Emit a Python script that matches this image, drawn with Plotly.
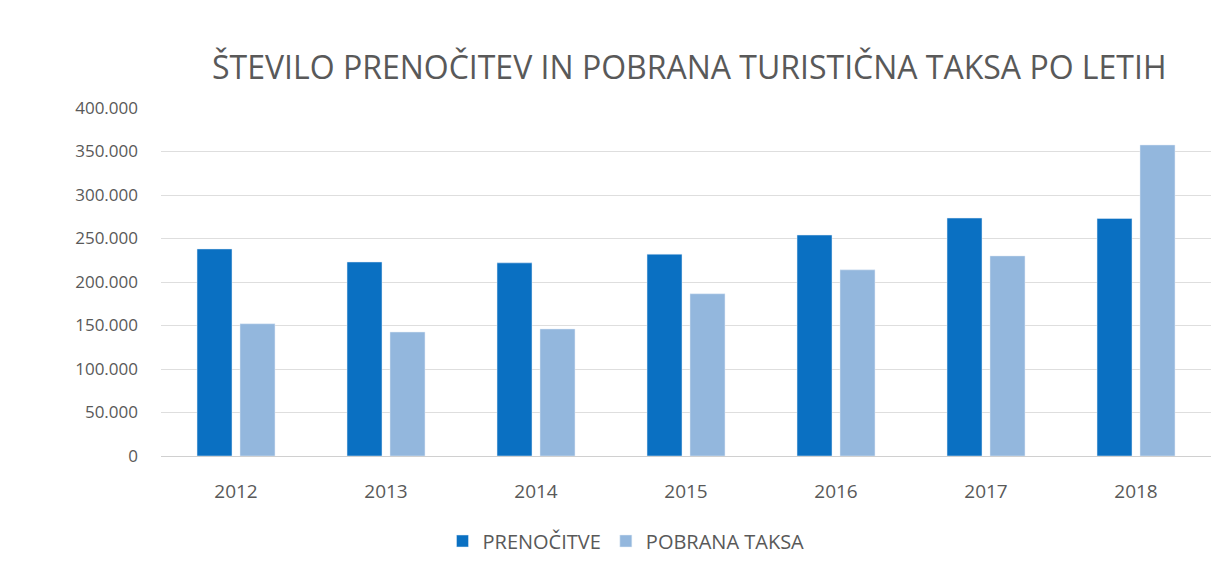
import plotly.graph_objects as go

years = ["2012", "2013", "2014", "2015", "2016", "2017", "2018"]
prenocitve = [238000, 223000, 222000, 232000, 254000, 273500, 273000]
pobrana_taksa = [152000, 142500, 146000, 186500, 214000, 230000, 357500]
y_ticks = [0, 50000, 100000, 150000, 200000, 250000, 300000, 350000, 400000]

FONT = "'Open Sans', sans-serif"
GRAY = "#595959"
W, H = 1220, 565  # page body has an 8px margin

fig = go.Figure()
fig.add_trace(go.Bar(name="PRENOČITVE", x=years, y=prenocitve, marker_color="#0a70c2"))
fig.add_trace(go.Bar(name="POBRANA TAKSA", x=years, y=pobrana_taksa, marker_color="#93b7dd"))

fig.update_layout(
    width=W, height=H,
    margin=dict(l=153, r=17, t=100, b=117),
    paper_bgcolor="white", plot_bgcolor="white",
    separators=",.",
    barmode="group", bargap=0.427, bargroupgap=0.186,
    font=dict(family=FONT, color=GRAY),
    title=dict(text="ŠTEVILO PRENOČITEV IN POBRANA TURISTIČNA TAKSA PO LETIH",
               x=204/W, xanchor="left", xref="container",
               y=1-60/H, yanchor="middle", yref="container",
               font=dict(size=32, color=GRAY, family=FONT)),
    legend=dict(orientation="h", x=618/W, xanchor="center", xref="container",
                y=1-533/H, yanchor="middle", yref="container",
                font=dict(size=20, color=GRAY), itemwidth=30),
    showlegend=True,
)
fig.update_yaxes(range=[0, 400000], tickvals=y_ticks, tickformat=",d",
                 showgrid=True, gridcolor="#dedede", gridwidth=1,
                 zeroline=True, zerolinecolor="#d0d0d0", zerolinewidth=1,
                 tickfont=dict(size=17, color=GRAY), ticks="", ticklabelstandoff=22,
                 showline=False)
fig.update_xaxes(tickfont=dict(size=19, color=GRAY), showline=False, ticks="",
                 showgrid=False, ticklabelstandoff=22)

fig.write_html("out.html")
